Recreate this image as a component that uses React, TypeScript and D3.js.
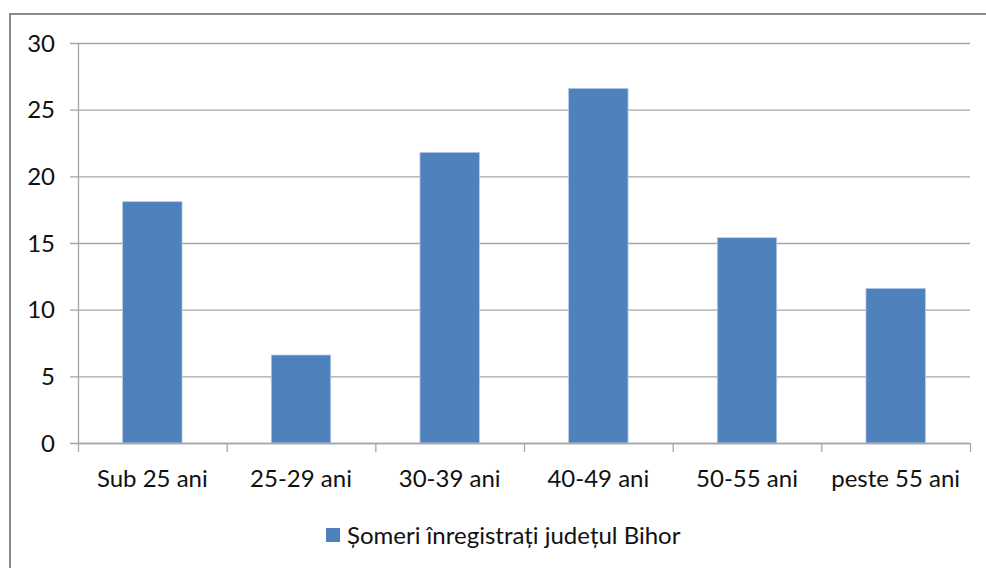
import { useEffect, useRef } from 'react';
import * as d3 from 'd3';

const categories = ['Sub 25 ani', '25-29 ani', '30-39 ani', '40-49 ani', '50-55 ani', 'peste 55 ani'];
const values = [18.1, 6.6, 21.8, 26.6, 15.4, 11.6];
const yTicks = [0, 5, 10, 15, 20, 25, 30];
const seriesName = 'Șomeri înregistrați județul Bihor';

const width = 986;
const height = 568;
const font = 'Lato, "Open Sans", sans-serif';
const fontSize = 24;

export default function App() {
  const svgRef = useRef<SVGSVGElement>(null);

  useEffect(() => {
    if (!svgRef.current) return;
    const svg = d3.select(svgRef.current);
    svg.selectAll('*').remove();

    const left = 78, right = 970, top = 43, bottom = 443;

    svg.append('rect').attr('width', width).attr('height', height).attr('fill', '#fff');

    // outer frame (cut off at right and bottom)
    svg.append('path')
      .attr('d', `M10,${height} L10,14 L${width},14`)
      .attr('fill', 'none')
      .attr('stroke', '#8a8a8a')
      .attr('stroke-width', 2);

    const x = d3.scaleBand<string>()
      .domain(categories)
      .range([left, right])
      .paddingInner(0.6)
      .paddingOuter(0.3);

    const y = d3.scaleLinear().domain([0, 30]).range([bottom, top]);

    // gridlines + y tick marks
    svg.append('g')
      .selectAll('line')
      .data(yTicks)
      .enter()
      .append('line')
      .attr('x1', left - 8)
      .attr('x2', right)
      .attr('y1', d => y(d) + 0.5)
      .attr('y2', d => y(d) + 0.5)
      .attr('stroke', '#a6a6a6')
      .attr('stroke-width', 1.3);

    // y labels
    svg.append('g')
      .selectAll('text')
      .data(yTicks)
      .enter()
      .append('text')
      .attr('x', 55)
      .attr('y', d => y(d))
      .attr('dy', '0.36em')
      .attr('text-anchor', 'end')
      .attr('font-family', font)
      .attr('font-size', fontSize)
      .attr('fill', '#111')
      .text(d => d);

    // bars
    svg.append('g')
      .selectAll('rect')
      .data(values)
      .enter()
      .append('rect')
      .attr('x', (d, i) => x(categories[i]) || 0)
      .attr('y', d => y(d))
      .attr('width', x.bandwidth())
      .attr('height', d => bottom - y(d))
      .attr('fill', '#4f81bd')
      .attr('stroke', '#b9cde5')
      .attr('stroke-width', 0.8);

    // y axis line
    svg.append('line')
      .attr('x1', left + 0.5).attr('x2', left + 0.5)
      .attr('y1', top).attr('y2', bottom)
      .attr('stroke', '#a6a6a6').attr('stroke-width', 1.3);

    // x axis line
    svg.append('line')
      .attr('x1', left).attr('x2', right)
      .attr('y1', bottom + 0.5).attr('y2', bottom + 0.5)
      .attr('stroke', '#a6a6a6').attr('stroke-width', 1.3);

    // category boundary ticks
    const step = x.step();
    svg.append('g')
      .selectAll('line')
      .data(d3.range(categories.length + 1))
      .enter()
      .append('line')
      .attr('x1', i => left + i * step + 0.5)
      .attr('x2', i => left + i * step + 0.5)
      .attr('y1', bottom)
      .attr('y2', bottom + 9)
      .attr('stroke', '#a6a6a6')
      .attr('stroke-width', 1.3);

    // category labels
    svg.append('g')
      .selectAll('text')
      .data(categories)
      .enter()
      .append('text')
      .attr('x', d => (x(d) || 0) + x.bandwidth() / 2)
      .attr('y', 487)
      .attr('text-anchor', 'middle')
      .attr('font-family', font)
      .attr('font-size', fontSize)
      .attr('fill', '#111')
      .text(d => d);

    // legend
    const lg = svg.append('g');
    lg.append('rect')
      .attr('x', 326).attr('y', 528)
      .attr('width', 14).attr('height', 14)
      .attr('fill', '#4f81bd');
    lg.append('text')
      .attr('x', 347)
      .attr('y', 544)
      .attr('font-family', font)
      .attr('font-size', fontSize)
      .attr('fill', '#111')
      .text(seriesName);
  }, []);

  return (
    <div style={{ position: 'absolute', left: 0, top: 0 }}>
      <svg ref={svgRef} width={width} height={height} style={{ display: 'block' }} />
    </div>
  );
}
